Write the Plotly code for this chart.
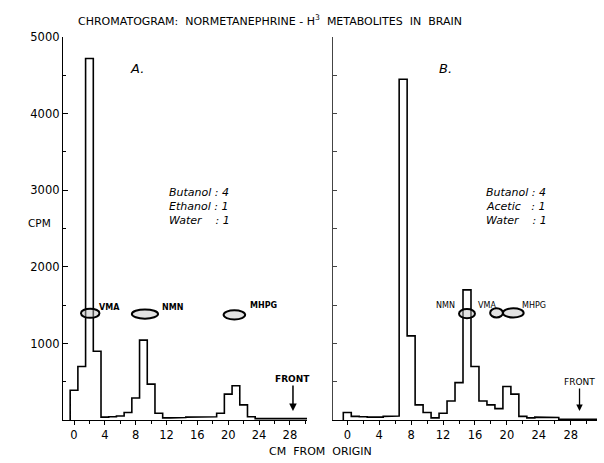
import plotly.graph_objects as go

# ---------------- data ----------------
# Panel A: Butanol:Ethanol:Water, 1-cm strips (centre position, cm from origin)
a_cm = list(range(0, 31))
a_cpm = [390, 700, 4720, 900, 40, 45, 55, 100, 290, 1045, 470, 90, 30, 30, 35, 40,
         40, 40, 45, 90, 340, 450, 200, 45, 20, 20, 20, 25, 25, 20, 20]

# Panel B: Butanol:Acetic:Water
b_cm = list(range(0, 32))
b_cpm = [100, 50, 45, 40, 40, 50, 55, 4450, 1100, 200, 100, 30, 90, 250, 490, 1700,
         700, 250, 200, 150, 440, 340, 50, 30, 40, 40, 35, 10, 10, 10, 10, 10]

# reference spots (name, centre cm, width cm, cpm level)
a_spot_names = ["VMA", "NMN", "MHPG"]
a_spot_cm = [2.1, 9.2, 20.8]
a_spot_w = [2.4, 3.4, 2.8]
a_spot_cpm = [1395, 1385, 1375]

b_spot_names = ["NMN", "VMA", "MHPG"]
b_spot_cm = [15.0, 18.7, 20.8]
b_spot_w = [2.0, 1.6, 2.6]
b_spot_cpm = [1390, 1400, 1400]

front_a_cm = 28.4
front_b_cm = 29.1

y_ticks = [1000, 2000, 3000, 4000, 5000]
x_ticks = [0, 4, 8, 12, 16, 20, 24, 28]

solvent_a = ["Butanol : 4", "Ethanol : 1", "Water    : 1"]
solvent_b = ["Butanol : 4", "Acetic   : 1", "Water    : 1"]

# ---------------- figure ----------------
W, H = 604, 463
FONT = "DejaVu Sans"


def px_x(x):
    return x / W


def px_y(y):
    return 1 - y / H


def step_xy(centers, values):
    xs = [centers[0] - 0.5]
    ys = [0]
    for c, v in zip(centers, values):
        xs += [c - 0.5, c + 0.5]
        ys += [v, v]
    return xs, ys


fig = go.Figure()
xa, ya = step_xy(a_cm, a_cpm)
xb, yb = step_xy(b_cm, b_cpm)
fig.add_trace(go.Scatter(x=xa, y=ya, mode="lines", line=dict(color="black", width=1.6),
                         xaxis="x", yaxis="y", showlegend=False, hoverinfo="skip"))
fig.add_trace(go.Scatter(x=xb, y=yb, mode="lines", line=dict(color="black", width=1.6),
                         xaxis="x2", yaxis="y2", showlegend=False, hoverinfo="skip"))

ydom = [px_y(419.5), px_y(30.5)]
common_x = dict(showline=True, linecolor="black", linewidth=1.3, ticks="outside",
                ticklen=4, tickcolor="black", tickvals=x_ticks, showgrid=False,
                zeroline=False, tickfont=dict(family=FONT, size=11.5, color="black"),
                minor=dict(dtick=2, ticks="outside", ticklen=3, tickcolor="black"))

fig.update_layout(
    width=W, height=H, autosize=False,
    margin=dict(l=0, r=0, t=0, b=0),
    paper_bgcolor="white", plot_bgcolor="white",
    xaxis=dict(domain=[px_x(63), px_x(307)], range=[-1.43, 30.22], anchor="y", **common_x),
    xaxis2=dict(domain=[px_x(333), px_x(597)], range=[-1.79, 31.29], anchor="y2", **common_x),
    yaxis=dict(domain=ydom, range=[0, 5000], anchor="x", showline=True, linecolor="black",
               linewidth=1.3, ticks="inside", ticklen=5, tickcolor="black",
               tickvals=y_ticks, showgrid=False, zeroline=False,
               tickfont=dict(family=FONT, size=11.5, color="black"),
               minor=dict(dtick=500, ticks="inside", ticklen=3, tickcolor="black")),
    yaxis2=dict(domain=ydom, range=[0, 5000], anchor="x2", showline=True, linecolor="#444",
                linewidth=1, ticks="inside", ticklen=4, tickcolor="#444",
                dtick=500, showticklabels=False, showgrid=False, zeroline=False),
)

shapes = []
annotations = []


def add_spots(cms, ws, cpms, xref, yref):
    for c, w, v in zip(cms, ws, cpms):
        shapes.append(dict(type="circle", xref=xref, yref=yref,
                           x0=c - w / 2, x1=c + w / 2, y0=v - 60, y1=v + 60,
                           line=dict(color="black", width=2),
                           fillcolor="rgba(190,190,190,0.45)", layer="above"))


add_spots(a_spot_cm, a_spot_w, a_spot_cpm, "x", "y")
add_spots(b_spot_cm, b_spot_w, b_spot_cpm, "x2", "y2")

lab_font = dict(family=FONT, size=8, color="black")
# spot labels panel A (label placement in cm / cpm)
a_lab_pos = [(3.0, 1475), (11.15, 1475), (22.6, 1490)]
for n, (lx, ly) in zip(a_spot_names, a_lab_pos):
    annotations.append(dict(x=lx, y=ly, xref="x", yref="y", text="<b>" + n + "</b>",
                            showarrow=False, xanchor="left", yanchor="middle", font=lab_font))
# spot labels panel B
b_lab_pos = [(13.8, 1500, "right"), (16.1, 1500, "left"), (21.6, 1500, "left")]
for n, (lx, ly, anc) in zip(b_spot_names, b_lab_pos):
    annotations.append(dict(x=lx, y=ly, xref="x2", yref="y2", text=n,
                            showarrow=False, xanchor=anc, yanchor="middle", font=lab_font))

# FRONT arrows
annotations.append(dict(x=front_a_cm, y=120, xref="x", yref="y", text="<b>FRONT</b>",
                        showarrow=True, arrowhead=2, arrowsize=1, arrowwidth=1.5,
                        arrowcolor="black", ax=0, ay=-32,
                        font=dict(family=FONT, size=9, color="black")))
annotations.append(dict(x=front_b_cm, y=120, xref="x2", yref="y2", text="FRONT",
                        showarrow=True, arrowhead=2, arrowsize=1, arrowwidth=1.3,
                        arrowcolor="black", ax=0, ay=-29,
                        font=dict(family=FONT, size=9, color="black")))

# panel letters
annotations.append(dict(x=px_x(137), y=px_y(62), xref="paper", yref="paper", text="<i>A.</i>",
                        showarrow=False, xanchor="center", yanchor="middle",
                        font=dict(family=FONT, size=13, color="black")))
annotations.append(dict(x=px_x(445), y=px_y(62), xref="paper", yref="paper", text="<i>B.</i>",
                        showarrow=False, xanchor="center", yanchor="middle",
                        font=dict(family=FONT, size=13, color="black")))

# solvent systems
for i, t in enumerate(solvent_a):
    annotations.append(dict(x=px_x(167), y=px_y(188 + 14.5 * i), xref="paper", yref="paper",
                            text="<i>" + t + "</i>", showarrow=False, xanchor="left",
                            yanchor="middle", font=dict(family=FONT, size=11, color="black")))
for i, t in enumerate(solvent_b):
    annotations.append(dict(x=px_x(484), y=px_y(188 + 14.5 * i), xref="paper", yref="paper",
                            text="<i>" + t + "</i>", showarrow=False, xanchor="left",
                            yanchor="middle", font=dict(family=FONT, size=11, color="black")))

# titles
annotations.append(dict(x=px_x(270), y=px_y(14), xref="paper", yref="paper",
                        text="CHROMATOGRAM:  NORMETANEPHRINE - H<sup>3</sup>  METABOLITES  IN  BRAIN",
                        showarrow=False, xanchor="center", yanchor="middle",
                        font=dict(family=FONT, size=11, color="black")))
annotations.append(dict(x=px_x(39), y=px_y(219), xref="paper", yref="paper", text="CPM",
                        showarrow=False, xanchor="center", yanchor="middle",
                        font=dict(family=FONT, size=10.5, color="black")))
annotations.append(dict(x=px_x(320), y=px_y(451), xref="paper", yref="paper",
                        text="CM  FROM  ORIGIN", showarrow=False, xanchor="center",
                        yanchor="middle", font=dict(family=FONT, size=11, color="black")))

fig.update_layout(shapes=shapes, annotations=annotations)
fig.write_html("out.html", config={"displayModeBar": False},
               post_script="document.body.style.margin='0';")
